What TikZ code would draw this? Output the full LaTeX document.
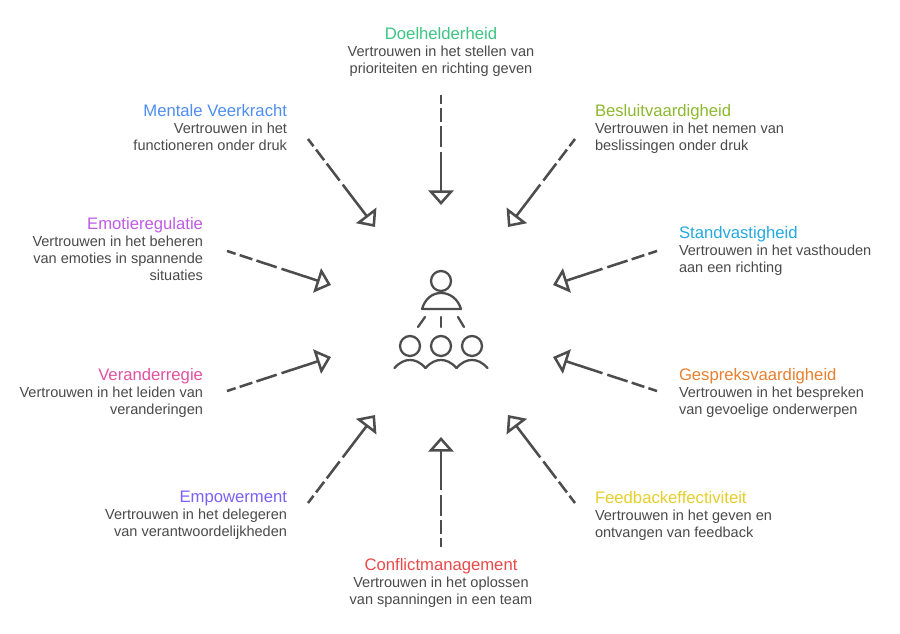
\documentclass[tikz,border=0pt]{standalone}
\usepackage{fontspec}
\setmainfont{Liberation Sans}
\usetikzlibrary{arrows.meta}
\definecolor{body}{HTML}{4A4A4A}
\definecolor{ink}{HTML}{4D4D4D}
\definecolor{cGreen}{HTML}{3CC583}
\definecolor{cBlue}{HTML}{4F8EF0}
\definecolor{cOlive}{HTML}{8DB82F}
\definecolor{cSky}{HTML}{25A9E0}
\definecolor{cPurple}{HTML}{C05CE6}
\definecolor{cOrange}{HTML}{E88030}
\definecolor{cPink}{HTML}{E0529F}
\definecolor{cYellow}{HTML}{E5CF2A}
\definecolor{cViolet}{HTML}{7B61F5}
\definecolor{cRed}{HTML}{E84A4A}
\newcommand{\ttl}[2]{{\fontsize{12.5}{13.5}\selectfont\color{#1}#2}\\}
\tikzset{
  x=0.75pt,y=-0.75pt,
  lab/.style={inner sep=0pt,outer sep=0pt,text=body,font=\fontsize{10.9}{12.75}\selectfont},
  labL/.style={lab,anchor=north west,align=left},
  labR/.style={lab,anchor=north east,align=right},
  labC/.style={lab,anchor=north,align=center},
  flow/.style={draw=ink,line width=1.9pt,
    dash pattern=on 6.8pt off 3.2pt on 10pt off 3.2pt on 16pt off 3.8pt on 200pt,
    -{Triangle[open,length=11pt,width=19pt,line width=1.9pt]}},
  icon/.style={draw=ink,line width=1.7pt,line cap=round,line join=round}
}
\begin{document}
\begin{tikzpicture}
\useasboundingbox (0,0) rectangle (900,634);
\fill[white] (0,0) rectangle (900,634);
% labels
\node[labC] (t1) at (441,27.5) {\ttl{cGreen}{Doelhelderheid}Vertrouwen in het stellen van\\prioriteiten en richting geven};
\node[labL] (t2) at (595,104.5) {\ttl{cOlive}{Besluitvaardigheid}Vertrouwen in het nemen van\\beslissingen onder druk};
\node[labL] (t3) at (679,226.5) {\ttl{cSky}{Standvastigheid}Vertrouwen in het vasthouden\\aan een richting};
\node[labL] (t4) at (679,368.5) {\ttl{cOrange}{Gespreksvaardigheid}Vertrouwen in het bespreken\\van gevoelige onderwerpen};
\node[labL] (t5) at (595,491.5) {\ttl{cYellow}{Feedbackeffectiviteit}Vertrouwen in het geven en\\ontvangen van feedback};
\node[labC] (t6) at (441,558.5) {\ttl{cRed}{Conflictmanagement}Vertrouwen in het oplossen\\van spanningen in een team};
\node[labR] (t7) at (287,491.5) {\ttl{cViolet}{Empowerment}Vertrouwen in het delegeren\\van verantwoordelijkheden};
\node[labR] (t8) at (203,368.5) {\ttl{cPink}{Veranderregie}Vertrouwen in het leiden van\\veranderingen};
\node[labR] (t9) at (203,217.5) {\ttl{cPurple}{Emotieregulatie}Vertrouwen in het beheren\\van emoties in spannende\\situaties};
\node[labR] (t10) at (287,104.5) {\ttl{cBlue}{Mentale Veerkracht}Vertrouwen in het\\functioneren onder druk};
% connector ends
\coordinate (s1) at (441,95);   \coordinate (e1) at (441,205);
\coordinate (s2) at (575,139);  \coordinate (e2) at (508,227);
\coordinate (s3) at (657,251);  \coordinate (e3) at (553,285);
\coordinate (s4) at (657,391);  \coordinate (e4) at (553,357);
\coordinate (s5) at (575,503);  \coordinate (e5) at (508,415);
\coordinate (s6) at (441,547);  \coordinate (e6) at (441,437);
\coordinate (s7) at (308,503);  \coordinate (e7) at (375,415);
\coordinate (s8) at (227,391);  \coordinate (e8) at (331,357);
\coordinate (s9) at (227,251);  \coordinate (e9) at (331,285);
\coordinate (s10) at (308,139); \coordinate (e10) at (375,227);
\foreach \i in {1,...,10} \draw[flow] (s\i) -- (e\i);
% centre icon
\draw[icon] (441,281) circle (10);
\draw[icon] (422,309) .. controls (425,299) and (432,293) .. (441,293) .. controls (450,293) and (458,299) .. (461,309) -- cycle;
\draw[icon] (418,327) -- (425,317);
\draw[icon] (441,317) -- (441,327);
\draw[icon] (458,317) -- (464,327);
\foreach \x in {410,441,472} {
  \draw[icon] (\x,346) circle (10);
  \draw[icon] (\x-15.5,368) .. controls (\x-10,362) and (\x-5,360) .. (\x,360) .. controls (\x+5,360) and (\x+10,362) .. (\x+15.5,368);
}
\end{tikzpicture}
\end{document}
